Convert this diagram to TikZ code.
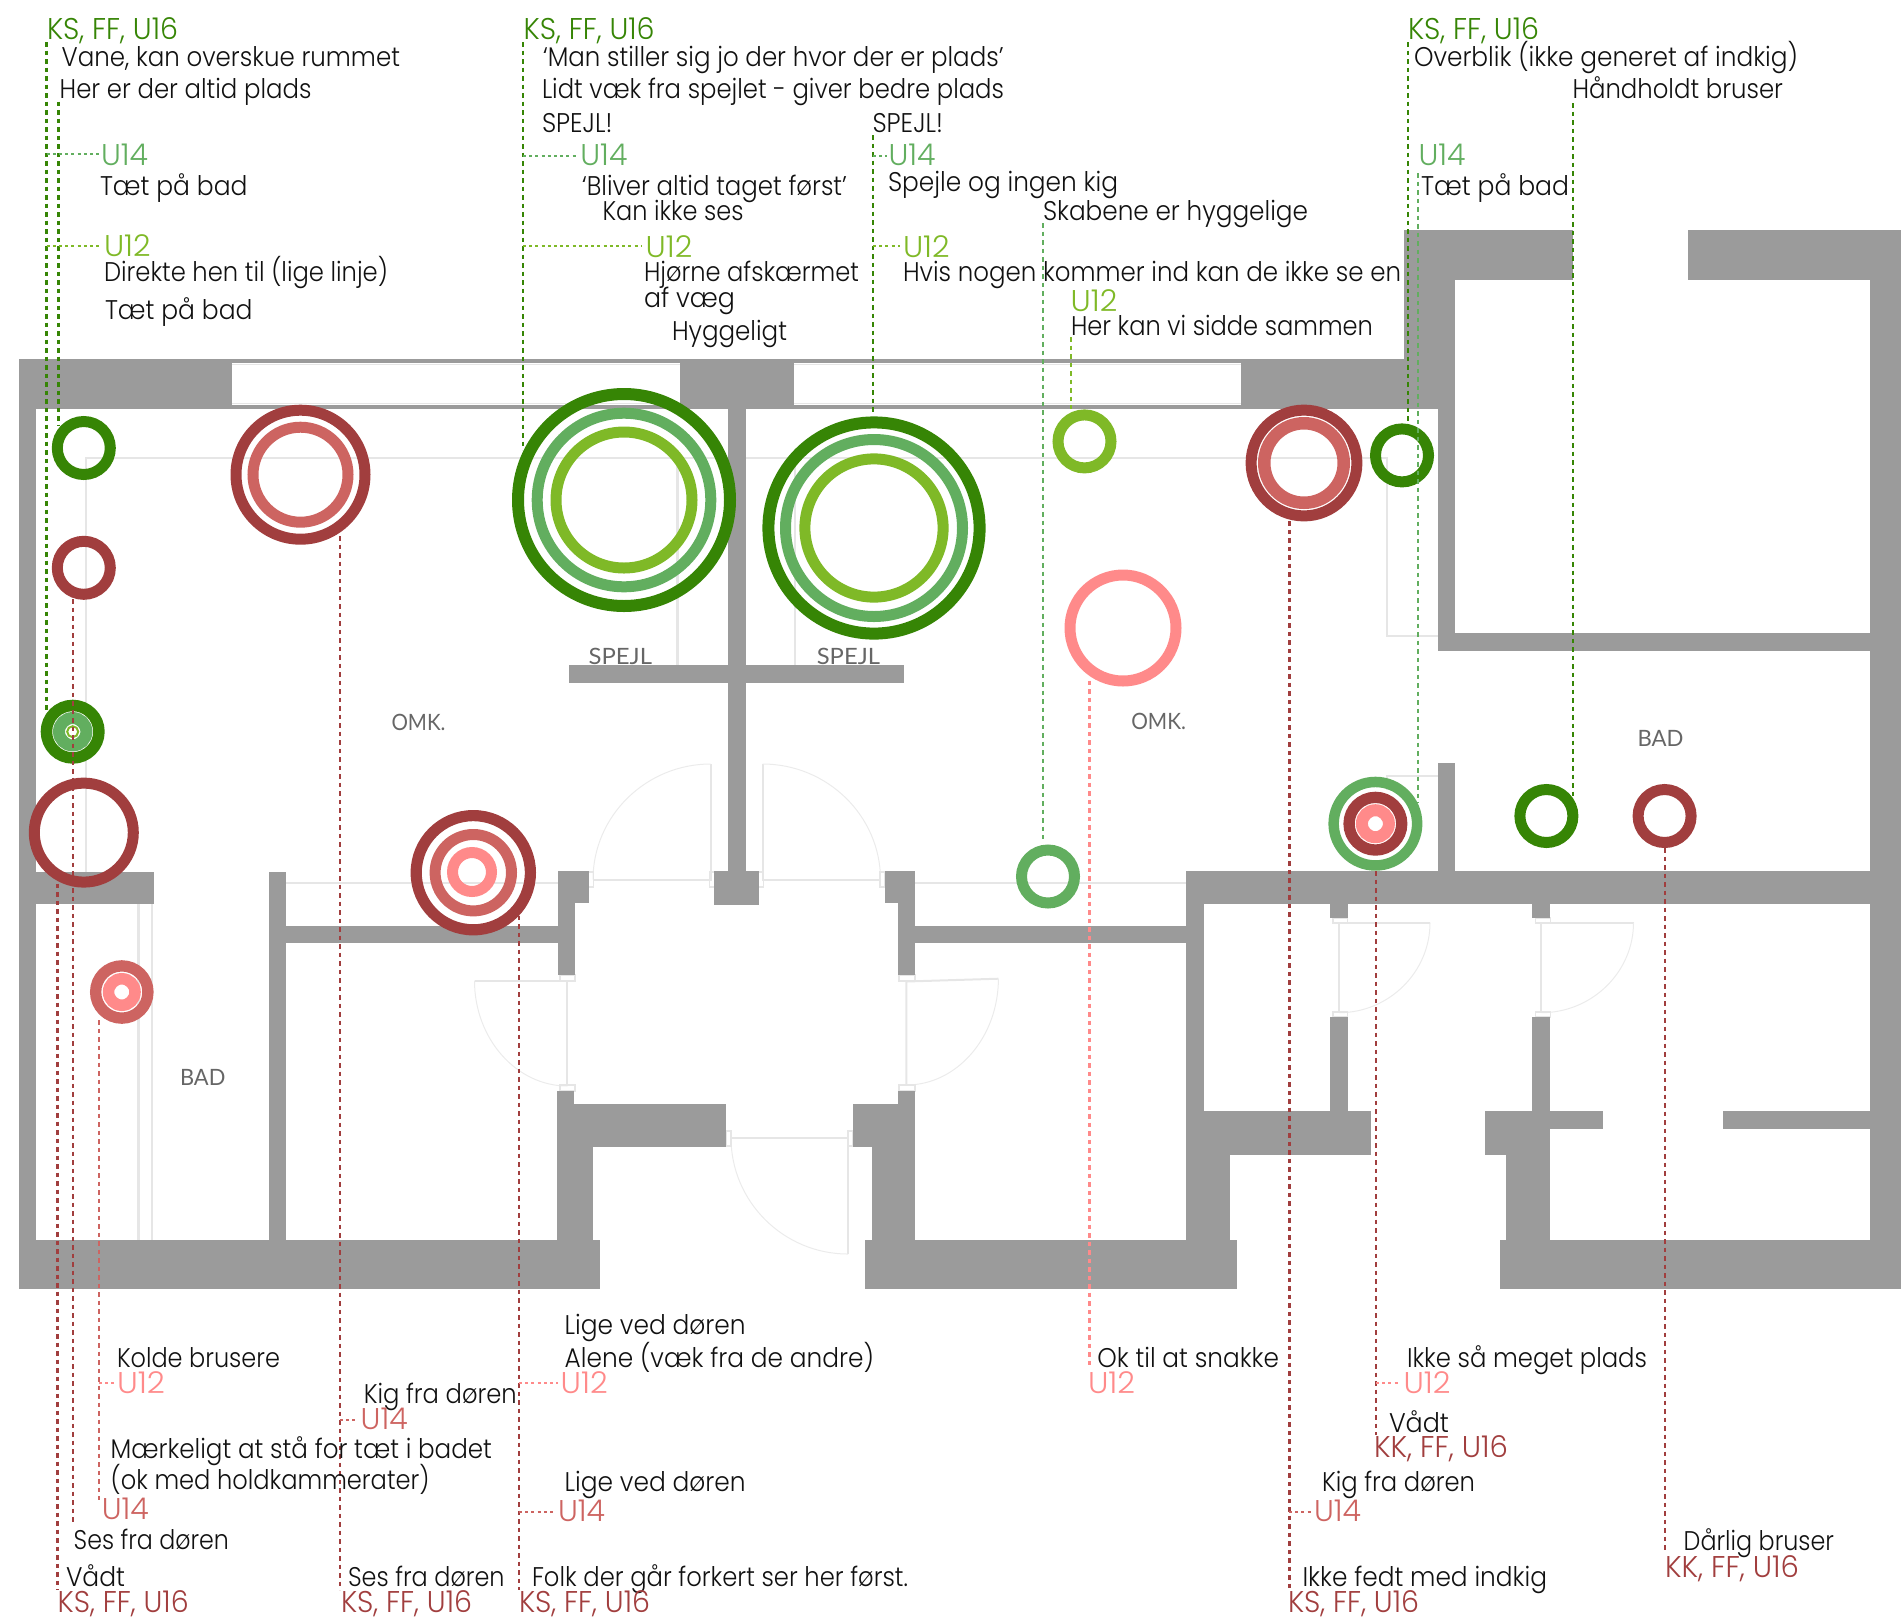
\documentclass[tikz,border=0pt]{standalone}
\usepackage{fontspec}
\usepackage{graphicx}
\newfontfamily\bodyf{Poppins Light}
\newfontfamily\roomf{Lato}
\definecolor{gD}{HTML}{368505}
\definecolor{gM}{HTML}{62AE5F}
\definecolor{gL}{HTML}{7FB927}
\definecolor{rD}{HTML}{A13E3E}
\definecolor{rM}{HTML}{CD6461}
\definecolor{rL}{HTML}{FF8A8A}
\definecolor{wallc}{HTML}{9B9B9B}
\definecolor{lite}{HTML}{E6E6E6}
\definecolor{arcc}{HTML}{EBEBEB}
\definecolor{roomc}{HTML}{666666}
\definecolor{inkc}{HTML}{111111}
\newsavebox\tbox
% name, colour, font size, x, baseline, target width, text
\newcommand\TXT[7]{%
  \node[txt] (#1) at (#4,#5) {\sbox\tbox{#2\fontsize{#3}{#3}\selectfont #7}%
  \pgfmathsetmacro\sxv{#6/\the\wd\tbox}%
  \scalebox{\sxv}[1]{#2\fontsize{#3}{#3}\selectfont #7}};}
\newcommand\TB[5]{\TXT{#1}{\bodyf\color{inkc}}{27}{#2}{#3}{#4}{#5}}
\newcommand\TC[6]{\TXT{#1}{\bodyf\color{#2}}{30}{#3}{#4}{#5}{#6}}
\newcommand\TR[5]{\TXT{#1}{\roomf\color{roomc}}{22.5}{#2}{#3}{#4}{#5}}
% name, x, y, outer radius, width, colour
\newcommand\RING[6]{%
  \pgfmathsetmacro\ringd{2*(#4-#5/2)}%
  \node[ringn, draw=#6, line width=#5pt, minimum size=\ringd pt] (#1) at (#2,#3) {};}
% vertical connector: name, style, x, y1, y2
\newcommand\VC[5]{\coordinate (#1a) at (#3,#4); \coordinate (#1b) at (#3,#5); \draw[#2] (#1a) -- (#1b);}
% horizontal branch: name, style, y, x1, x2
\newcommand\HC[5]{\coordinate (#1a) at (#4,#3); \coordinate (#1b) at (#5,#3); \draw[#2] (#1a) -- (#1b);}
\newcommand\WALL[4]{\fill[wallc] (#1,#2) rectangle (#3,#4);}
\newcommand\JAMB[4]{\draw[jamb] (#1,#2) rectangle (#3,#4);}
\tikzset{
  txt/.style={anchor=base west,inner sep=0pt,outer sep=0pt},
  ringn/.style={circle,inner sep=0pt,outer sep=0pt},
  lead/.style={line width=2.4pt,dash pattern=on 4.5pt off 4pt},
  branch/.style={line width=1.8pt,dash pattern=on 3pt off 3.2pt},
  litel/.style={draw=lite,line width=2.8pt},
  leaf/.style={draw=lite,line width=2pt},
  swing/.style={draw=arcc,line width=1pt},
  jamb/.style={draw=lite,line width=1.5pt},
}
\begin{document}
\begin{tikzpicture}[x=1pt,y=-1pt]
\useasboundingbox (0,0) rectangle (1901,1618);
% light plan lines
\draw[litel] (86,872) -- (86,458) -- (1387,458) -- (1387,636) -- (1437.5,636);
\draw[litel] (677.7,458) -- (677.7,665);
\draw[litel] (795,458) -- (795,665);
\draw[litel] (1387,790) -- (1387,776) -- (1437.5,776);
\draw[litel] (286,883) -- (558,883);
\draw[litel] (915,883) -- (1186,883);
\draw[litel] (138.4,904) -- (138.4,1240);
\draw[litel] (152,904) -- (152,1240);
\draw[jamb] (232,364.5) -- (1241,364.5);
\draw[jamb] (232,403.5) -- (1241,403.5);
\draw[leaf] (593,879.6) -- (710.7,879.6) -- (710.7,764);
\draw[leaf] (880.5,879.6) -- (762.6,879.6) -- (762.6,764);
\draw[leaf] (474.5,980.7) -- (567.4,980.7) -- (567.4,1086);
\draw[leaf] (998.4,978.7) -- (906.4,981.5) -- (906.4,1085);
\draw[leaf] (731,1137.7) -- (848,1137.7) -- (848,1254);
\draw[leaf] (1430,922.7) -- (1339,922.7) -- (1339,1012.7);
\draw[leaf] (1633.5,922.7) -- (1541.4,922.7) -- (1541.4,1012.7);
\draw[swing] (710.7,764) .. controls (646,764) and (593,816) .. (593,879.6);
\draw[swing] (762.6,764) .. controls (827.4,764) and (880.5,816) .. (880.5,879.6);
\draw[swing] (474.5,980.7) .. controls (474.5,1038.6) and (516.3,1086) .. (567.4,1086);
\draw[swing] (998.4,978.7) .. controls (998.4,1037) and (957,1085) .. (906.4,1085);
\draw[swing] (731,1137.7) .. controls (731,1201.7) and (783.6,1254) .. (848,1254);
\draw[swing] (1430,922.7) .. controls (1430,972) and (1389,1012.7) .. (1339,1012.7);
\draw[swing] (1633.5,922.7) .. controls (1633.5,972) and (1592,1012.7) .. (1541.4,1012.7);
\JAMB{588.5}{872}{593.4}{887}
\JAMB{709.5}{872}{714.4}{887}
\JAMB{758.5}{872}{763.4}{887}
\JAMB{880}{872}{885}{887}
\JAMB{560}{975}{575}{981}
\JAMB{560}{1085}{575}{1091}
\JAMB{899}{975}{915}{981}
\JAMB{899}{1085}{915}{1091}
\JAMB{726}{1131}{731}{1146}
\JAMB{848}{1131}{852.6}{1146}
\JAMB{1333}{918}{1347.6}{923}
\JAMB{1333}{1012}{1347.6}{1017}
\JAMB{1535.5}{918}{1550.4}{923}
\JAMB{1535.5}{1012}{1550.4}{1017}
% walls
\WALL{19}{359}{36.4}{1289}
\WALL{19}{359}{232}{408.6}
\WALL{232}{359}{1241}{363}
\WALL{232}{404.5}{1241}{408.5}
\WALL{679.5}{359}{794}{409}
\WALL{728}{409}{745.6}{871}
\WALL{569}{665}{904}{683}
\WALL{714.4}{871}{758.5}{904.5}
\WALL{1241}{359}{1454.5}{408.5}
\WALL{1404.4}{230}{1573}{280}
\WALL{1404.4}{230}{1454.5}{408.5}
\WALL{1437.5}{408.5}{1454.5}{651}
\WALL{1437.5}{633}{1870}{651}
\WALL{1688}{230}{1901}{280}
\WALL{1869.7}{230}{1901}{1289}
\WALL{1437.5}{762.5}{1454.5}{871}
\WALL{1186}{871}{1901}{904}
\WALL{1186}{871}{1203.5}{1240}
\WALL{1186}{1111}{1371}{1154.7}
\WALL{1186}{1154.7}{1230}{1240}
\WALL{864.6}{1240}{1236.6}{1289}
\WALL{1330}{904}{1347.6}{918}
\WALL{1330}{1017}{1347.6}{1111}
\WALL{1532.4}{904}{1550.4}{918}
\WALL{1532.4}{1017}{1550.4}{1240}
\WALL{1484.7}{1111}{1602.8}{1128.7}
\WALL{1484.7}{1111}{1550.4}{1154.7}
\WALL{1506.4}{1154.7}{1550.4}{1240}
\WALL{1500}{1240}{1901}{1289}
\WALL{1723}{1111}{1870}{1128.7}
\WALL{558}{871}{588.5}{902.7}
\WALL{558}{902.7}{575}{975}
\WALL{286}{925.7}{558}{943}
\WALL{269}{871.7}{286}{1240}
\WALL{19}{871.7}{153.8}{904}
\WALL{19}{1240}{600}{1289}
\WALL{557}{1091}{574}{1104}
\WALL{557}{1104}{726}{1146.7}
\WALL{557}{1146.7}{593.4}{1240}
\WALL{885}{871}{915.3}{902.7}
\WALL{898}{902.7}{915.3}{975}
\WALL{915.3}{925.7}{1186}{943}
\WALL{898}{1091}{915.3}{1240}
\WALL{852.6}{1104}{915.3}{1146.7}
\WALL{872}{1146.7}{915.3}{1240}
% rings
\RING{a1}{83.8}{448}{32}{11}{gD}
\RING{a2}{83.8}{567.8}{32}{11}{rD}
\RING{b1}{300.5}{474.7}{70}{11}{rD}
\RING{b2}{300.5}{474.7}{53}{11}{rM}
\RING{c1}{624}{500}{112}{12}{gD}
\RING{c2}{624}{500}{92.3}{11}{gM}
\RING{c3}{624}{500}{73.5}{11}{gL}
\RING{d1}{874}{528}{111.6}{12}{gD}
\RING{d2}{874}{528}{94}{11}{gM}
\RING{d3}{874}{528}{74.6}{11}{gL}
\RING{e1}{1084.5}{441.4}{32}{11}{gL}
\RING{f1}{1123}{628}{58.5}{11}{rL}
\RING{h1}{1048}{876.5}{32}{11}{gM}
\RING{i1}{72.7}{731.7}{32}{11.5}{gD}
\RING{i2}{72.7}{731.7}{19.7}{12}{gM}
\RING{i3}{72.7}{731.7}{6.5}{2}{gL}
\RING{j1}{83.8}{832.6}{55}{11}{rD}
\RING{k1}{473.3}{872.7}{62.7}{11.2}{rD}
\RING{k2}{473.3}{872.7}{43.7}{11}{rM}
\RING{k3}{472}{872}{25}{11}{rL}
\RING{l1}{121.8}{992}{31.8}{11.3}{rM}
\RING{l2}{121.8}{992}{19}{11.5}{rL}
\RING{m1}{1304}{463}{58.4}{11}{rD}
\RING{m2}{1304}{463}{46}{12.5}{rM}
\RING{n1}{1402}{455.4}{32}{11}{gD}
\RING{o1}{1375.4}{823.7}{47}{10.5}{gM}
\RING{o2}{1375.4}{823.7}{32}{11.3}{rD}
\RING{o3}{1375.4}{823.7}{19.5}{12}{rL}
\RING{p1}{1546.4}{816}{32}{11}{gD}
\RING{q1}{1664.6}{816}{32}{11}{rD}
% green leaders
\VC{L1}{lead,gD}{46.6}{42}{711}
\VC{L2}{lead,gD}{58.5}{101.7}{425.7}
\HC{B1}{branch,gM}{154}{46.6}{100}
\HC{B2}{branch,gL}{246}{46.6}{102}
\VC{L3}{lead,gD}{523}{42}{450}
\HC{B3}{branch,gM}{155.7}{523}{578}
\HC{B4}{branch,gL}{246}{523}{642}
\VC{L4}{lead,gD}{873.2}{135}{415}
\HC{B5}{branch,gM}{155.7}{873}{887}
\HC{B6}{branch,gL}{246}{873}{900}
\VC{L5}{lead,gM}{1043}{223}{839.4}
\VC{L6}{lead,gL}{1071}{337}{409}
\VC{L7}{lead,gD}{1408}{42}{423}
\VC{L8}{lead,gM}{1418}{173}{803}
\VC{L9}{lead,gD}{1573}{103}{796}
% red leaders
\VC{R1}{lead,rD}{57.3}{875}{1590}
\VC{R2}{lead,rD}{73.2}{599}{1521.7}
\VC{R3}{lead,rM}{98.9}{1020}{1500}
\HC{B7}{branch,rL}{1383}{99}{117}
\VC{R4}{lead,rD}{340.2}{536}{1590}
\HC{B8}{branch,rM}{1420}{340}{355}
\VC{R5}{lead,rD}{518.8}{915.5}{1590}
\HC{B9}{branch,rL}{1383}{519}{558}
\HC{B10}{branch,rM}{1511.7}{519}{553}
\VC{R6}{lead,rL}{1089.4}{680.6}{1368}
\VC{R7}{lead,rD}{1289.4}{521}{1590}
\HC{B11}{branch,rM}{1511.7}{1289}{1311}
\VC{R8}{lead,rD}{1375.8}{871}{1435}
\HC{B12}{branch,rL}{1383}{1376}{1400}
\VC{R9}{lead,rD}{1664.8}{848}{1553}
% room labels
\TR{ro1}{391.5}{730}{54}{OMK.}
\TR{ro2}{1131.3}{729.6}{54.7}{OMK.}
\TR{ro3}{180}{1085}{45.4}{BAD}
\TR{ro4}{1637.5}{746}{46}{BAD}
\TR{ro5}{588.6}{664.5}{63.4}{SPEJL}
\TR{ro6}{816.8}{664.5}{63.2}{SPEJL}
% top texts
\TC{t1}{gD}{47}{39.3}{131}{KS, FF, U16}
\TB{t2}{61.6}{66.7}{338.4}{Vane, kan overskue rummet}
\TB{t3}{59.7}{98}{251.8}{Her er der altid plads}
\TC{t4}{gM}{101}{165.7}{47}{U14}
\TB{t5}{100}{195}{147.5}{Tæt på bad}
\TC{t6}{gL}{104}{256.7}{46.6}{U12}
\TB{t7}{104}{281.7}{284}{Direkte hen til (lige linje)}
\TB{t8}{105}{319}{147.5}{Tæt på bad}
\TC{u1}{gD}{523.6}{39.3}{131}{KS, FF, U16}
\TB{u2}{543}{66.7}{460.6}{‘Man stiller sig jo der hvor der er plads’}
\TB{u3}{542}{98}{462}{Lidt væk fra spejlet - giver bedre plads}
\TB{u4}{542}{132.7}{70.5}{SPEJL!}
\TC{u5}{gM}{580.4}{165.7}{47}{U14}
\TB{u6}{582}{195}{265}{‘Bliver altid taget først’}
\TB{u7}{602.5}{220}{141}{Kan ikke ses}
\TC{u8}{gL}{645.7}{257}{46.6}{U12}
\TB{u9}{644}{281.7}{215}{Hjørne afskærmet}
\TB{u10}{644}{307}{91}{af væg}
\TB{u11}{672}{340.7}{115}{Hyggeligt}
\TB{v1}{872.5}{132.7}{70.5}{SPEJL!}
\TC{v2}{gM}{888.6}{165.7}{47}{U14}
\TB{v3}{888}{191.7}{230}{Spejle og ingen kig}
\TB{v4}{1043}{220}{265}{Skabene er hyggelige}
\TC{v5}{gL}{903}{257}{46.6}{U12}
\TB{v6}{903}{281.7}{498}{Hvis nogen kommer ind kan de ikke se en}
\TC{v7}{gL}{1070.7}{311.7}{46.6}{U12}
\TB{v8}{1071}{335}{302}{Her kan vi sidde sammen}
\TC{w1}{gD}{1408}{39.3}{131}{KS, FF, U16}
\TB{w2}{1414}{66.7}{384}{Overblik (ikke generet af indkig)}
\TB{w3}{1572.5}{98}{210.5}{Håndholdt bruser}
\TC{w4}{gM}{1418.5}{165.7}{47}{U14}
\TB{w5}{1421}{195}{148}{Tæt på bad}
% bottom texts
\TB{x1}{117}{1367.7}{163}{Kolde brusere}
\TC{x2}{rL}{117}{1393.3}{48}{U12}
\TB{x3}{110.7}{1458.3}{381.3}{Mærkeligt at stå for tæt i badet}
\TB{x4}{110.7}{1489}{318.8}{(ok med holdkammerater)}
\TC{x5}{rM}{101.8}{1519}{47}{U14}
\TB{x6}{73.7}{1549.3}{155.3}{Ses fra døren}
\TB{x7}{66}{1586}{59}{Vådt}
\TC{x8}{rD}{57.7}{1612.5}{131}{KS, FF, U16}
\TB{y1}{363.8}{1403.3}{153}{Kig fra døren}
\TC{y2}{rM}{360.7}{1429.3}{47}{U14}
\TB{y3}{348}{1586}{156.5}{Ses fra døren}
\TC{y4}{rD}{341}{1612.5}{131}{KS, FF, U16}
\TB{z1}{564.7}{1334.3}{181}{Lige ved døren}
\TB{z2}{564.7}{1367.7}{309.3}{Alene (væk fra de andre)}
\TC{z3}{rL}{560.7}{1393.3}{47}{U12}
\TB{z4}{564.7}{1491.7}{181}{Lige ved døren}
\TC{z5}{rM}{558}{1521.7}{47}{U14}
\TB{z6}{532}{1586}{376}{Folk der går forkert ser her først.}
\TC{z7}{rD}{519}{1612.5}{131}{KS, FF, U16}
\TB{s1}{1097.3}{1367.7}{181.7}{Ok til at snakke}
\TC{s2}{rL}{1088}{1393.3}{47}{U12}
\TB{s3}{1407}{1367.7}{240}{Ikke så meget plads}
\TC{s4}{rL}{1403.6}{1393.3}{47}{U12}
\TB{s5}{1389}{1432.7}{60}{Vådt}
\TC{s6}{rD}{1374}{1457.7}{134}{KK, FF, U16}
\TB{s7}{1322}{1491.7}{153}{Kig fra døren}
\TC{s8}{rM}{1314}{1521.7}{47}{U14}
\TB{s9}{1302.5}{1586}{244.5}{Ikke fedt med indkig}
\TC{s10}{rD}{1288}{1612.5}{131}{KS, FF, U16}
\TB{s11}{1683.7}{1550}{150.3}{Dårlig bruser}
\TC{s12}{rD}{1665}{1577.7}{134}{KK, FF, U16}
\end{tikzpicture}
\end{document}
